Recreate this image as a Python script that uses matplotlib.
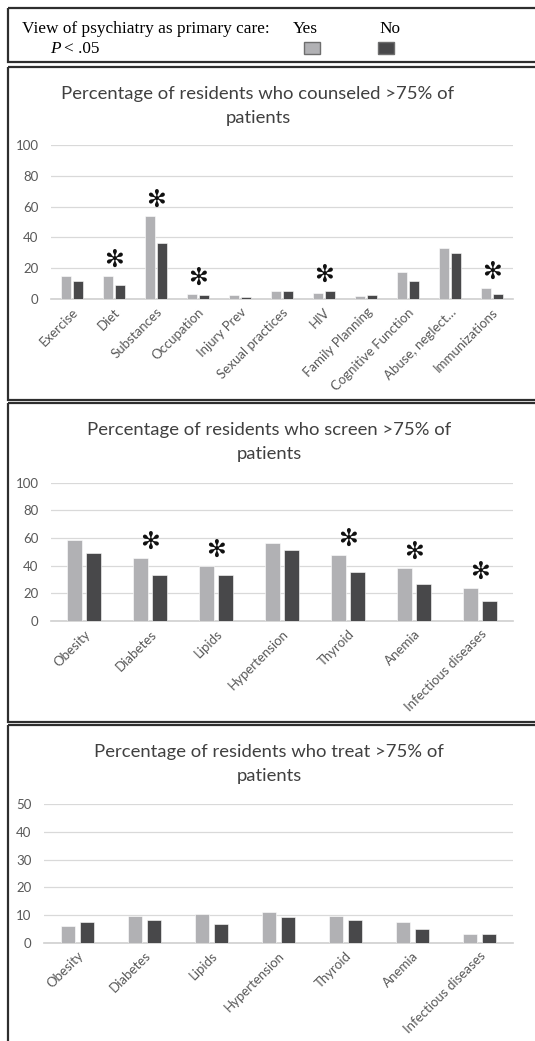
import matplotlib
matplotlib.use('Agg')
import matplotlib.pyplot as plt
from matplotlib.patches import Rectangle
import numpy as np

# ---------------- data ----------------
counsel_cats = ["Exercise", "Diet", "Substances", "Occupation", "Injury Prev",
                "Sexual practices", "HIV", "Family Planning", "Cognitive Function",
                "Abuse, neglect\u2026", "Immunizations"]
counsel_yes = [15.0, 15.0, 54.0, 3.3, 2.5, 5.4, 4.0, 2.0, 17.4, 33.0, 6.9]
counsel_no = [12.0, 9.2, 36.4, 2.3, 1.5, 5.2, 5.2, 2.6, 12.0, 29.7, 3.3]
counsel_sig = [False, True, True, True, False, False, True, False, False, False, True]

disease_cats = ["Obesity", "Diabetes", "Lipids", "Hypertension", "Thyroid",
                "Anemia", "Infectious diseases"]
screen_yes = [58.5, 45.7, 39.9, 56.6, 47.9, 38.2, 23.5]
screen_no = [49.1, 33.1, 33.1, 51.0, 35.6, 27.1, 14.3]
screen_sig = [False, True, True, False, True, True, True]

treat_yes = [6.0, 9.8, 10.5, 11.1, 9.8, 7.4, 3.3]
treat_no = [7.4, 8.3, 6.7, 9.3, 8.3, 5.0, 3.3]
treat_sig = [False] * 7

ticks_100 = [0, 20, 40, 60, 80, 100]
ticks_50 = [0, 10, 20, 30, 40, 50]

titles = ["Percentage of residents who counseled >75% of",
          "Percentage of residents who screen >75% of",
          "Percentage of residents who treat >75% of"]
title_line2 = "patients"

# ---------------- style ----------------
W, H = 535, 1041
YES_C = "#b1b1b4"
NO_C = "#48484a"
GRID_C = "#d9d9d9"
TXT_C = "#595959"
TITLE_C = "#404040"
SANS = ["Lato", "DejaVu Sans"]
SERIF = ["Liberation Serif", "DejaVu Serif"]

fig = plt.figure(figsize=(W / 100, H / 100), dpi=100)
fig.patch.set_facecolor("white")

bg = fig.add_axes([0, 0, 1, 1])
bg.set_xlim(0, W)
bg.set_ylim(H, 0)
bg.axis("off")

box_lw = 1.6
box_c = "#2e2e2e"
for (y0, y1) in [(7.5, 62), (66.5, 400), (403, 721.5), (725, 1060)]:
    bg.add_patch(Rectangle((8, y0), 560, y1 - y0, fill=False, lw=box_lw,
                           edgecolor=box_c, clip_on=True))

# legend
LFS = 12.4
bg.text(21.5, 33, "View of psychiatry as primary care:", fontsize=LFS,
        family=SERIF, va="baseline", ha="left", color="black")
bg.text(50, 53, "P", fontsize=LFS, family=SERIF, style="italic",
        va="baseline", ha="left", color="black")
bg.text(64, 53, "< .05", fontsize=LFS, family=SERIF,
        va="baseline", ha="left", color="black")
bg.text(293, 33, "Yes", fontsize=LFS, family=SERIF, va="baseline", ha="left")
bg.text(379, 33, "No", fontsize=LFS, family=SERIF, va="baseline", ha="left")
bg.add_patch(Rectangle((304, 42), 16, 12, facecolor=YES_C, edgecolor="#6e6e6e", lw=1.0))
bg.add_patch(Rectangle((378, 42), 16, 12, facecolor=NO_C, edgecolor="#6e6e6e", lw=1.0))


def panel(left, right, y_top, y_zero, ymax, ticks, cats, yes, no, sig,
          title, title_cx, title_base):
    ax = fig.add_axes([left / W, 1 - y_zero / H, (right - left) / W,
                       (y_zero - y_top) / H])
    n = len(cats)
    x = np.arange(n)
    bw = 0.22
    off = 0.143
    ax.bar(x - off, yes, bw, color=YES_C, edgecolor="white", lw=0.4, zorder=3)
    ax.bar(x + off, no, bw, color=NO_C, edgecolor="white", lw=0.4, zorder=3)
    ax.set_xlim(-0.5, n - 0.5)
    ax.set_ylim(0, ymax)
    ax.set_yticks(ticks)
    ax.yaxis.grid(True, color=GRID_C, lw=0.9, zorder=0)
    ax.set_axisbelow(True)
    for s in ["top", "right", "left"]:
        ax.spines[s].set_visible(False)
    ax.spines["bottom"].set_color("#cfcfcf")
    ax.spines["bottom"].set_linewidth(1.2)
    ax.tick_params(axis="y", length=0, pad=9, labelsize=9.5, labelcolor=TXT_C)
    ax.tick_params(axis="x", length=0, pad=5)
    for lab in ax.get_yticklabels():
        lab.set_family(SANS)
    ax.set_xticks(x)
    ax.set_xticklabels(cats, rotation=45, ha="right", va="top",
                       rotation_mode="anchor", fontsize=9.5, color=TXT_C,
                       family=SANS)
    ax.patch.set_alpha(0)
    for i in range(n):
        if sig[i]:
            ax.annotate("\u273B", (x[i], max(yes[i], no[i])), xytext=(0, 3),
                        textcoords="offset points", ha="center", va="bottom",
                        fontsize=17, family=["DejaVu Sans"],
                        color="#111111", zorder=5)
    bg.text(title_cx, title_base, title, fontsize=13.3, family=SANS,
            color=TITLE_C, ha="center", va="baseline")
    bg.text(title_cx, title_base + 24, title_line2, fontsize=13.3, family=SANS,
            color=TITLE_C, ha="center", va="baseline")
    return ax


panel(51, 513, 145, 299, 100, ticks_100, counsel_cats, counsel_yes, counsel_no,
      counsel_sig, titles[0], 258, 98.5)
panel(51, 513, 482.7, 621, 100, ticks_100, disease_cats, screen_yes, screen_no,
      screen_sig, titles[1], 269, 435)
panel(44, 513, 804.3, 942.7, 50, ticks_50, disease_cats, treat_yes, treat_no,
      treat_sig, titles[2], 269, 757)

fig.savefig("out.png", dpi=100)
